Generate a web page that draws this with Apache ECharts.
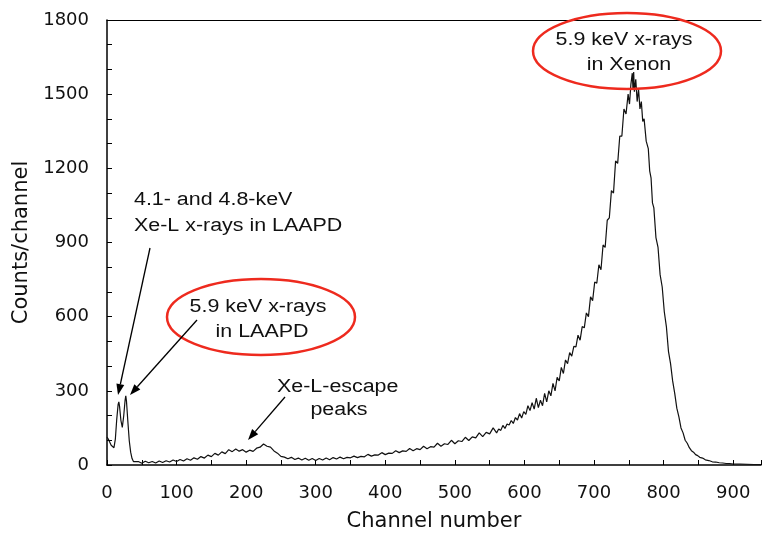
<!DOCTYPE html>
<html>
<head>
<meta charset="utf-8">
<script src="https://cdn.jsdelivr.net/npm/echarts@6/dist/echarts.min.js"></script>
<style>
html, body { margin: 0; padding: 0; background: #fff; }
#chart { width: 763px; height: 533px; }
</style>
</head>
<body>
<div id="chart"></div>
<script>
// 通道号与计数
var channels = [
	0, 2, 4, 6, 8, 10, 12, 14, 16, 17, 18, 20, 22, 24, 26, 27, 28, 30, 32, 34, 36, 38, 40,
	45, 50, 55, 60, 65, 70, 75, 80, 85, 90, 95, 100, 105, 110, 115, 120, 125, 130, 135, 140,
	145, 150, 155, 160, 165, 170, 175, 180, 185, 190, 195, 200, 205, 210, 215, 220, 225, 230, 235, 240,
	245, 250, 255, 260, 265, 270, 275, 280, 285, 290, 295, 300, 305, 310, 315, 320, 325, 330, 335, 340,
	345, 350, 355, 360, 365, 370, 375, 380, 385, 390, 395, 400, 405, 410, 415, 420, 425, 430, 435, 440,
	445, 450, 455, 460, 465, 470, 475, 480, 485, 490, 495, 500, 505, 510, 515, 520, 525, 530, 535, 540,
	545, 550, 555, 560, 563, 566, 569, 572, 575, 578, 581, 584, 587, 590, 593, 596, 599, 602, 605, 608,
	611, 614, 617, 620, 623, 626, 629, 632, 635, 638, 641, 644, 647, 650, 653, 656, 659, 662, 665, 668,
	671, 674, 677, 680, 683, 686, 689, 692, 695, 698, 701, 704, 707, 710, 713, 716, 719, 722, 725, 728,
	731, 734, 737, 740, 743, 746, 749, 751, 753, 755, 756, 757, 758, 760, 762, 764, 766, 768, 770, 772,
	775, 778, 780, 782, 784, 786, 789, 792, 795, 798, 801, 804, 807, 810, 813, 816, 819, 822, 825, 828,
	831, 834, 837, 840, 843, 846, 849, 852, 856, 860, 865, 870, 875, 880, 885, 890, 895, 900, 910, 920, 930, 940
];
var counts = [
	113, 104, 92, 80, 72, 70, 105, 185, 245, 255, 238, 180, 152, 198, 262, 280, 258, 175, 98, 52, 26, 14, 10,
	14, 7, 15, 9, 14, 8, 16, 10, 17, 12, 20, 14, 22, 16, 25, 19, 29, 23, 34, 28,
	40, 34, 47, 40, 53, 46, 62, 54, 65, 56, 62, 52, 60, 55, 68, 72, 85, 76, 72, 57,
	48, 35, 32, 25, 31, 22, 28, 20, 27, 19, 26, 18, 26, 20, 28, 21, 30, 24, 32, 25,
	31, 29, 36, 30, 35, 33, 43, 36, 41, 40, 50, 42, 48, 47, 58, 50, 57, 55, 67, 58,
	66, 62, 76, 66, 74, 72, 88, 76, 86, 83, 100, 86, 98, 95, 112, 99, 114, 110, 130, 115,
	132, 126, 150, 130, 146, 140, 160, 148, 166, 162, 180, 168, 192, 182, 208, 190, 216, 205, 240, 220,
	252, 226, 270, 232, 262, 240, 290, 255, 300, 280, 330, 300, 355, 340, 395, 370, 425, 410, 455, 440,
	480, 478, 525, 505, 560, 555, 615, 600, 680, 665, 740, 735, 810, 790, 890, 880, 990, 1000, 1110, 1100,
	1230, 1220, 1330, 1330, 1440, 1420, 1500, 1460, 1540, 1585, 1520, 1590, 1510, 1560, 1470, 1520, 1440, 1470, 1390, 1400,
	1310, 1280, 1190, 1160, 1060, 1040, 920, 880, 770, 720, 620, 560, 460, 410, 340, 290, 230, 195, 150, 130,
	100, 88, 70, 58, 52, 42, 38, 31, 28, 21, 18, 13, 12, 9, 8, 6, 6, 4, 4, 3, 2, 2
];
var xTicks = [0, 100, 200, 300, 400, 500, 600, 700, 800, 900];
var yTicks = [0, 300, 600, 900, 1200, 1500, 1800];

var AXIS_FONT = 'DejaVu Sans';
var NOTE_FONT = 'Liberation Sans';

var seriesData = [];
for (var i = 0; i < channels.length; i++) {
	seriesData.push([channels[i], counts[i]]);
}

// 箭头：线段 + 三角形箭头
function arrow(x1, y1, x2, y2) {
	var dx = x2 - x1, dy = y2 - y1;
	var len = Math.sqrt(dx * dx + dy * dy);
	var ux = dx / len, uy = dy / len;
	var hl = 11, hw = 4;
	var bx = x2 - ux * hl, by = y2 - uy * hl;
	return [{
		type: 'line',
		shape: { x1: x1, y1: y1, x2: bx, y2: by },
		style: { stroke: '#000', lineWidth: 1.3 },
		z: 100
	}, {
		type: 'polygon',
		shape: { points: [[x2, y2], [bx - uy * hw, by + ux * hw], [bx + uy * hw, by - ux * hw]] },
		style: { fill: '#000' },
		z: 100
	}];
}

// 注释文字（原图文字横向偏宽，故横向拉伸）
function label(text, x, y, align) {
	return {
		type: 'text',
		x: x, y: y,
		scaleX: 1.19,
		style: {
			text: text, fill: '#111',
			font: '18px "' + NOTE_FONT + '"',
			align: align || 'center', verticalAlign: 'middle'
		},
		z: 100
	};
}

function ring(cx, cy, rx, ry) {
	return {
		type: 'ellipse',
		shape: { cx: cx, cy: cy, rx: rx, ry: ry },
		style: { fill: 'none', stroke: '#ee2a1e', lineWidth: 2.5 },
		z: 90
	};
}

var graphics = [];
graphics = graphics.concat(arrow(150, 248, 118, 395));
graphics = graphics.concat(arrow(197, 320, 130, 395));
graphics = graphics.concat(arrow(285, 397, 248, 440));
graphics.push(label('4.1- and 4.8-keV', 134, 200, 'left'));
graphics.push(label('Xe-L x-rays in LAAPD', 134, 226, 'left'));
graphics.push(ring(261, 317, 94, 38));
graphics.push(label('5.9 keV x-rays', 258, 307));
graphics.push(label('in LAAPD', 262, 332));
graphics.push(label('Xe-L-escape', 277, 387, 'left'));
graphics.push(label('peaks', 339, 410));
graphics.push(ring(627, 51, 94, 38));
graphics.push(label('5.9 keV x-rays', 624, 40));
graphics.push(label('in Xenon', 629, 65));

var chartObj = echarts.init(document.getElementById('chart'));
var option = {
	backgroundColor: '#fff',
	animation: false,
	grid: { left: 107, right: 2, top: 20, bottom: 68, outerBoundsMode: 'none' },
	xAxis: [{
		type: 'value',
		min: 0, max: 940, interval: 100,
		name: 'Channel number',
		nameLocation: 'middle',
		nameGap: 46,
		nameTextStyle: { fontFamily: AXIS_FONT, fontSize: 21, color: '#111' },
		axisLine: { lineStyle: { color: '#000', width: 1.5 } },
		axisTick: { inside: true, length: 5, lineStyle: { color: '#000' } },
		minorTick: { show: true, splitNumber: 2, length: 5, lineStyle: { color: '#000' } },
		splitLine: { show: false },
		axisLabel: {
			fontFamily: AXIS_FONT, fontSize: 18, color: '#111', margin: 19,
			formatter: function(v) { return xTicks.indexOf(v) >= 0 ? String(v) : ''; }
		}
	}, {
		type: 'value', position: 'top',
		min: 0, max: 940,
		axisLine: { show: true, onZero: false, lineStyle: { color: '#000', width: 1 } },
		axisTick: { show: false },
		axisLabel: { show: false },
		splitLine: { show: false }
	}],
	yAxis: {
		type: 'value',
		min: 0, max: 1800, interval: 300,
		name: 'Counts/channel',
		nameLocation: 'middle',
		nameGap: 72,
		nameTextStyle: { fontFamily: AXIS_FONT, fontSize: 21, color: '#111' },
		axisLine: { show: true, lineStyle: { color: '#000', width: 1.5 } },
		axisTick: { show: true, inside: true, length: 5, lineStyle: { color: '#000' } },
		minorTick: { show: true, splitNumber: 3, length: 5, lineStyle: { color: '#000' } },
		splitLine: { show: false },
		axisLabel: {
			fontFamily: AXIS_FONT, fontSize: 18, color: '#111', margin: 18,
			formatter: function(v) { return yTicks.indexOf(v) >= 0 ? String(v) : ''; }
		}
	},
	series: [{
		type: 'line',
		data: seriesData,
		showSymbol: false,
		symbol: 'none',
		lineStyle: { color: '#111', width: 1.2 },
		z: 5
	}],
	graphic: graphics
};
chartObj.setOption(option);
</script>
</body>
</html>
